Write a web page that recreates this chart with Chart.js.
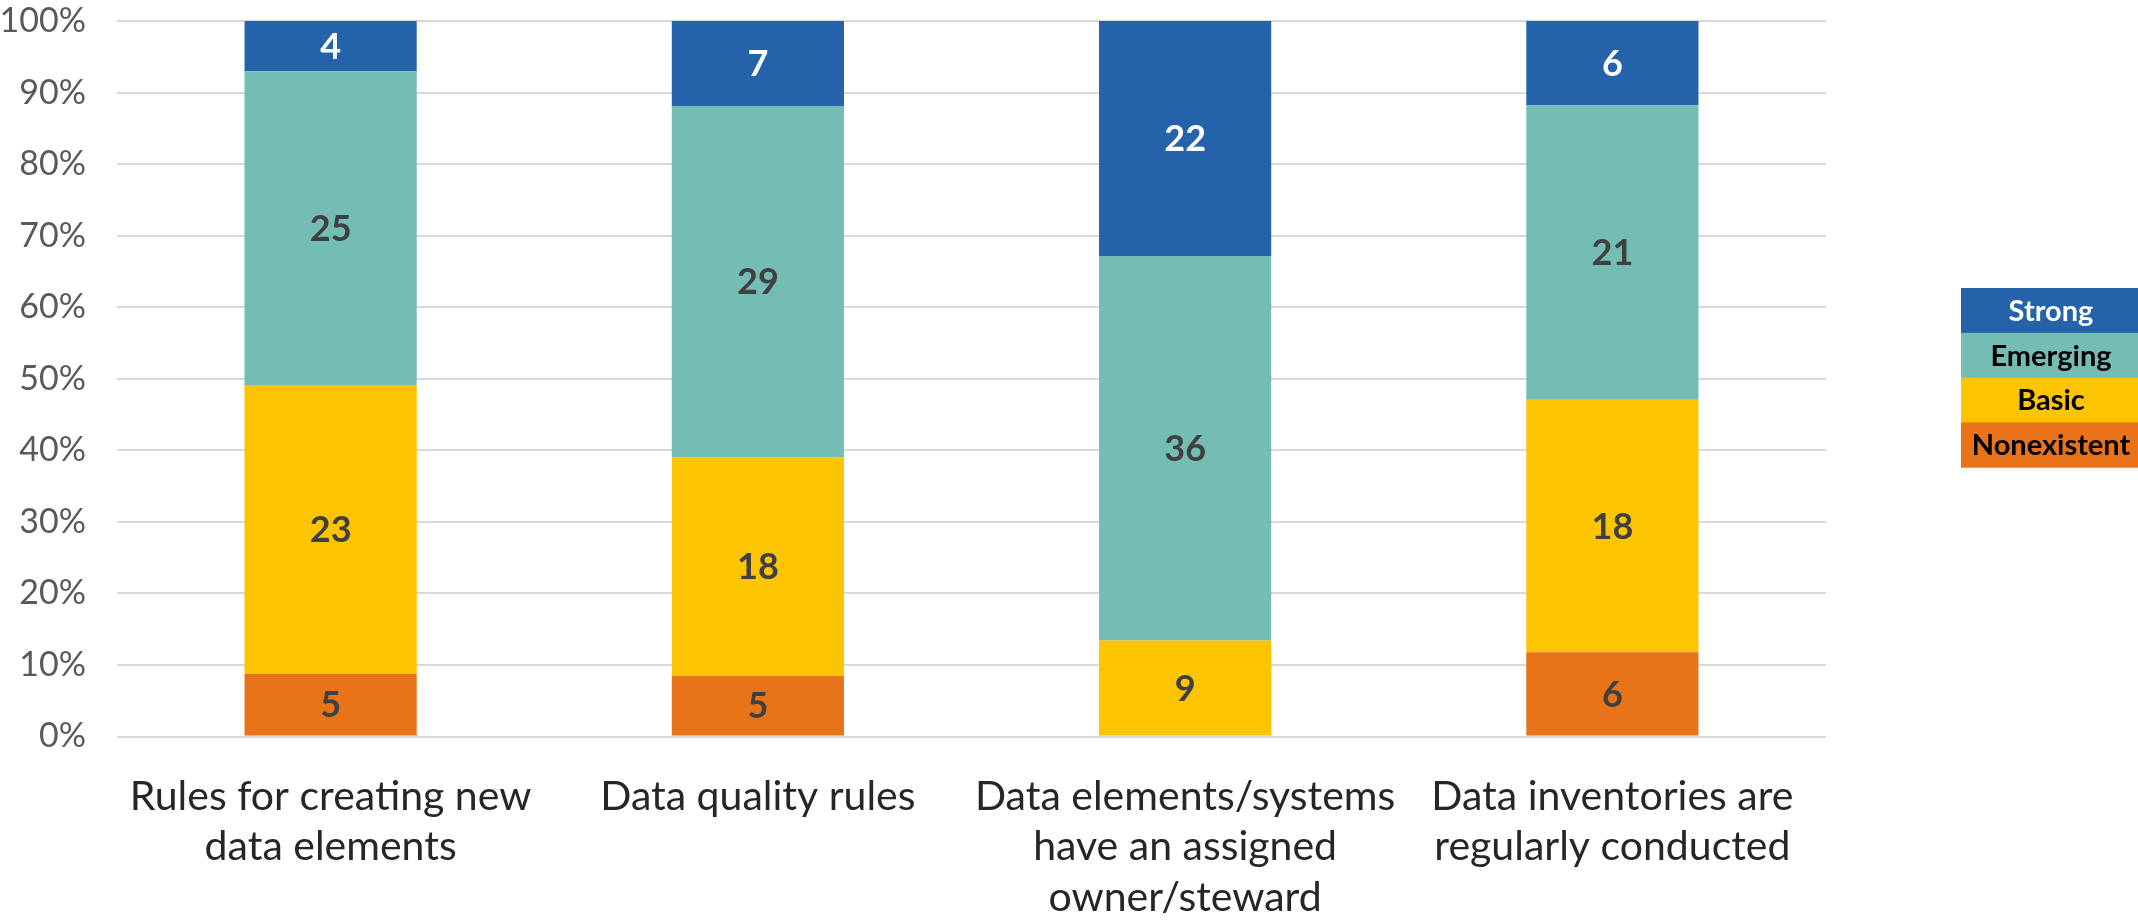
<!DOCTYPE html>
<html>
<head>
<meta charset="utf-8">
<title>Data governance maturity</title>
<script src="https://cdn.jsdelivr.net/npm/chart.js@4.4.1/dist/chart.umd.min.js"></script>
<style>
  html, body { margin: 0; padding: 0; background: #ffffff; }
  #chart-container { position: relative; width: 2138px; height: 922px; }
</style>
</head>
<body>
<div id="chart-container"><canvas id="maturity-chart"></canvas></div>
<script>
// --- Data ---
const categories = [
    ['Rules for creating new', 'data elements'],
    ['Data quality rules'],
    ['Data elements/systems', 'have an assigned', 'owner/steward'],
    ['Data inventories are', 'regularly conducted']
];
const seriesNames = ['Nonexistent', 'Basic', 'Emerging', 'Strong'];
const nonexistentCounts = [5, 5, 0, 6];
const basicCounts = [23, 18, 9, 18];
const emergingCounts = [25, 29, 36, 21];
const strongCounts = [4, 7, 22, 6];
const yTickLabels = ['0%', '10%', '20%', '30%', '40%', '50%', '60%', '70%', '80%', '90%', '100%'];

// --- Styles ---
const seriesColors = ['#e97318', '#fdc400', '#73bdb5', '#2462a9'];
const labelColors = ['#404040', '#404040', '#404040', '#ffffff'];
const legendTextColors = ['#000000', '#000000', '#000000', '#ffffff'];
const FONT = 'Lato, Calibri, "Open Sans", sans-serif';

// --- Convert counts to shares of each bar ---
const allCounts = [nonexistentCounts, basicCounts, emergingCounts, strongCounts];
const totals = categories.map((c, i) => allCounts.reduce((s, arr) => s + arr[i], 0));
function toPercent(arr) {
    return arr.map((v, i) => v / totals[i] * 100);
}

const datasets = seriesNames.map((name, k) => ({
    label: name,
    data: toPercent(allCounts[k]),
    counts: allCounts[k],
    backgroundColor: seriesColors[k],
    borderWidth: 0,
    barPercentage: 0.403,
    categoryPercentage: 1.0
}));

// --- Plugins: value labels inside segments, boxed legend at right ---
const segmentLabels = {
    id: 'segmentLabels',
    afterDatasetsDraw(chart) {
        const ctx = chart.ctx;
        ctx.save();
        ctx.font = 'bold 36px ' + FONT;
        ctx.textAlign = 'center';
        ctx.textBaseline = 'middle';
        chart.data.datasets.forEach((ds, k) => {
            const meta = chart.getDatasetMeta(k);
            meta.data.forEach((bar, i) => {
                const count = ds.counts[i];
                if (!count) return;
                const yMid = (bar.y + bar.base) / 2;
                ctx.fillStyle = labelColors[k];
                ctx.fillText(String(count), bar.x, yMid + 1);
            });
        });
        ctx.restore();
    }
};

const boxLegend = {
    id: 'boxLegend',
    afterDraw(chart) {
        const ctx = chart.ctx;
        const left = chart.chartArea.right + 135;
        const top = 288;
        const boxW = 180;
        const boxH = 44.8;
        ctx.save();
        ctx.font = 'bold 29px ' + FONT;
        ctx.textAlign = 'center';
        ctx.textBaseline = 'middle';
        // Strong on top, Nonexistent at the bottom
        for (let row = 0; row < seriesNames.length; row++) {
            const k = seriesNames.length - 1 - row;
            const y = top + row * boxH;
            ctx.fillStyle = seriesColors[k];
            ctx.fillRect(left, y, boxW, boxH + 0.5);
            ctx.fillStyle = legendTextColors[k];
            ctx.fillText(seriesNames[k], left + boxW / 2, y + boxH / 2 + 1);
        }
        ctx.restore();
    }
};

// --- Chart ---
const ctx = document.getElementById('maturity-chart').getContext('2d');
new Chart(ctx, {
    type: 'bar',
    data: { labels: categories, datasets: datasets },
    options: {
        responsive: true,
        maintainAspectRatio: false,
        animation: false,
        layout: { padding: { top: 21, right: 312, left: 0, bottom: 0 } },
        plugins: {
            legend: { display: false },
            tooltip: { enabled: false }
        },
        scales: {
            x: {
                stacked: true,
                grid: { display: false, drawTicks: false },
                border: { display: false },
                ticks: {
                    color: '#262626',
                    font: { family: FONT, size: 41, lineHeight: 1.23 },
                    padding: 35,
                    maxRotation: 0,
                    autoSkip: false
                },
                afterFit(scale) { scale.height = 185.5; }
            },
            y: {
                stacked: true,
                min: 0,
                max: 100,
                grid: { color: '#d9d9d9', lineWidth: 2, drawTicks: false },
                border: { display: false },
                ticks: {
                    stepSize: 10,
                    color: '#595959',
                    font: { family: FONT, size: 34 },
                    padding: 31,
                    callback: (v) => yTickLabels[Math.round(v / 10)]
                },
                afterFit(scale) {
                    scale.width = 117;
                    scale.paddingTop = 0;
                    scale.paddingBottom = 0;
                }
            }
        }
    },
    plugins: [segmentLabels, boxLegend]
});
</script>
</body>
</html>
